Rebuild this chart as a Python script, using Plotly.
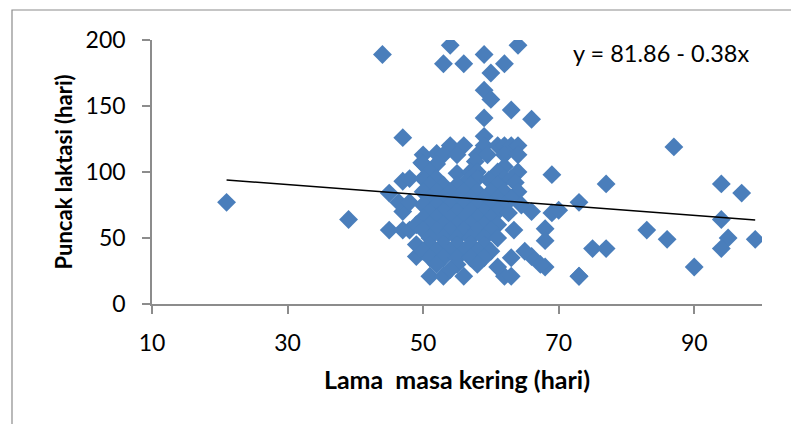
import plotly.graph_objects as go

# Lama masa kering (hari) vs Puncak laktasi (hari)
dry_days = [
    21, 39, 44, 54, 53, 56, 59, 64, 62, 60, 59, 60, 63, 66, 59, 47, 59,
    54, 56, 59, 61, 62, 63, 64, 50, 52, 53, 55, 58, 59.5, 62, 64, 69, 73,
    45, 47, 45, 47, 48, 47, 49.8, 49, 51, 53, 56, 62, 63, 66, 68, 73,
    69, 68, 68, 66, 70, 75, 77, 87, 77, 94, 97, 94, 83, 86, 95, 94, 99, 90, 73,
    50, 52, 57.7, 62,
    51, 55, 57, 58, 61, 64,
    48, 50, 52, 56.7, 58, 59.7, 62, 63,
    51, 53, 55, 57, 61, 63.6,
    50, 52, 54, 56, 58, 60, 62, 64,
    51, 53, 55, 57, 59, 61, 63,
    46.4, 48,
    50, 52, 54, 56, 58, 60, 62, 64.5,
    51, 53, 55, 57, 59, 61, 62.6,
    50, 52, 54, 56, 58, 60,
    49, 51, 53, 55, 57, 59, 61,
    50, 52, 54, 56, 58, 60, 63.4,
    51, 53, 55, 57, 59, 61,
    49, 51, 53, 55, 57, 59,
    50, 52, 54, 56, 58, 60, 65,
    51, 53, 55, 57, 59,
    52, 55, 58, 67.3, 54, 61, 63,
]
peak_days = [
    77, 64, 189, 196, 182, 182, 189, 196, 182, 175, 162, 155, 147, 140, 141, 126, 127,
    120, 120, 120, 120, 120, 120, 120, 113, 114, 113, 113, 113, 113, 113, 113, 98, 77,
    84, 93, 56, 56, 56, 70, 107, 36, 21, 21, 21, 21, 21, 36, 28, 21,
    69, 57, 48, 70, 71, 42, 42, 119, 91, 91, 84, 64, 56, 49, 50, 42, 49, 28, 21,
    106, 106, 108, 104,
    100, 99, 100, 100, 100, 100,
    95, 95, 95, 94, 95, 94, 95, 95,
    90, 90, 90, 90, 90, 92,
    85, 85, 85, 85, 85, 85, 85, 85,
    80, 80, 80, 80, 80, 80, 80,
    77, 77,
    75, 75, 75, 75, 75, 75, 75, 75,
    70, 70, 70, 70, 70, 70, 69,
    65, 65, 65, 65, 65, 65,
    60, 60, 60, 60, 60, 60, 60,
    56, 56, 56, 56, 56, 56, 56,
    50, 50, 50, 50, 50, 50,
    45, 45, 45, 45, 45, 45,
    40, 40, 40, 40, 40, 40, 40,
    35, 35, 35, 35, 35,
    30, 30, 30, 30, 26, 28, 35,
]

# trend line as drawn in the chart
trend_intercept = 102.2
trend_slope = -0.39
equation_label = "y = 81.86 - 0.38x"

x_ticks = [10, 30, 50, 70, 90]
y_ticks = [0, 50, 100, 150, 200]

trend_x = [min(dry_days), max(dry_days)]
trend_y = [trend_intercept + trend_slope * v for v in trend_x]

fig = go.Figure()
fig.add_trace(go.Scatter(
    x=dry_days, y=peak_days, mode="markers",
    marker=dict(symbol="diamond", size=14.5, color="#4a7ebb", line=dict(width=0)),
    showlegend=False, hoverinfo="x+y",
))
fig.add_trace(go.Scatter(
    x=trend_x, y=trend_y, mode="lines",
    line=dict(color="black", width=1.5), showlegend=False, hoverinfo="skip",
))

axis_common = dict(
    showgrid=False, zeroline=False, showline=True, linecolor="#8c8c8c", linewidth=1.5,
    ticks="outside", ticklen=8, tickcolor="#8c8c8c", tickwidth=1.5,
    tickfont=dict(family="Lato", size=23, color="black"),
)

L, T, PW, PH = 144, 32, 610, 264

fig.update_layout(
    width=799, height=424,
    margin=dict(l=L, r=799 - L - PW, t=T, b=424 - T - PH),
    paper_bgcolor="white", plot_bgcolor="white",
    font=dict(family="Lato", color="black"),
    xaxis=dict(
        range=[10, 100], tickvals=x_ticks, ticklabelstandoff=10,
        title=dict(text="Lama\u00a0 masa kering (hari)", standoff=16,
                   font=dict(family="Lato", size=25, weight="bold", color="black")),
        **axis_common,
    ),
    yaxis=dict(
        range=[0, 200], tickvals=y_ticks, ticklabelstandoff=12,
        title=dict(text="Puncak laktasi (hari)", standoff=7,
                   font=dict(family="Lato", size=22, weight="bold", color="black")),
        **axis_common,
    ),
    annotations=[dict(
        text=equation_label, xref="paper", yref="paper", x=0.982, y=0.951,
        xanchor="right", yanchor="middle", showarrow=False,
        font=dict(family="Lato", size=23.5, color="black"),
    )],
    shapes=[dict(
        type="rect", xref="paper", yref="paper",
        x0=(4 - L) / PW, x1=(805 - L) / PW,
        y0=1 - (430 - T) / PH, y1=1 + (T - 2) / PH,
        line=dict(color="#8c8c8c", width=1.2), fillcolor="rgba(0,0,0,0)", layer="below",
    )],
)

fig.write_html("out.html")
